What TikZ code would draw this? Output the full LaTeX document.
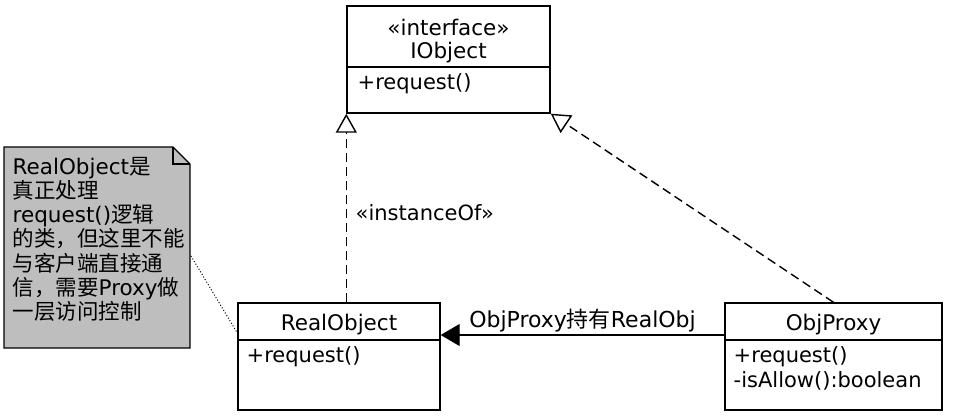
\documentclass[tikz,border=0pt]{standalone}
\usepackage{fontspec}
\setmainfont{DejaVu Sans}
\newfontfamily\cjk{Noto Sans CJK SC}
\usetikzlibrary{arrows.meta,positioning}
\definecolor{notegray}{RGB}{190,190,190}

\begin{document}
\begin{tikzpicture}[x=1pt,y=-1pt,line width=1.4pt,
    classbox/.style={draw,minimum height=107pt,inner sep=0pt},
    member/.style={anchor=base west,inner sep=0pt,font=\fontsize{21}{24}\selectfont},
    classname/.style={anchor=base,inner sep=0pt,font=\fontsize{21.5}{24}\selectfont},
    realize/.style={dash pattern=on 9pt off 5pt,-{Triangle[open,length=19pt,width=21pt]}},
    assoc/.style={-{Triangle[length=19pt,width=22pt]}}]
    \useasboundingbox (0,0) rectangle (957,415);
    % classes
    \node[classbox,minimum width=203pt] (iobj) at (448.5,59.5){};
    \draw (347,67) -- (550,67);
    \node[classname] (iobjst) at (448.5,35){«interface»};
    \node[classname] (iobjname) at (448.5,58){IObject};
    \node[member] (iobjreq) at (357,89){+request()};

    \node[classbox,minimum width=202pt] (real) at (339,356.5){};
    \draw (238,340) -- (440,340);
    \node[classname] (realname) at (339,330){RealObject};
    \node[member] (realreq) at (246,362){+request()};

    \node[classbox,minimum width=217pt] (proxy) at (833.5,356.5){};
    \draw (725,340) -- (942,340);
    \node[classname] (proxyname) at (833.5,330){ObjProxy};
    \node[member] (proxyreq) at (733,362){+request()};
    \node[member] (proxyallow) at (733,387){-isAllow():boolean};

    % note
    \fill[notegray] (4,147) -- (173,147) -- (190,164) -- (190,348) -- (4,348) -- cycle;
    \draw (4,147) -- (173,147) -- (190,164) -- (190,348) -- (4,348) -- cycle;
    \draw (173,147) -- (173,164) -- (190,164);
    \foreach \txt [count=\i] in {RealObject{\cjk 是},{\cjk 真正处理},request(){\cjk 逻辑},
        {\cjk 的类，但这里不能},{\cjk 与客户端直接通},{\cjk 信，需要}Proxy{\cjk 做},{\cjk 一层访问控制}}
        \node[member,font=\fontsize{21.5}{24}\selectfont] (note\i) at (12,174+24.3*\i-24.3){\txt};
    \coordinate (noteend) at (191,256);

    % connectors
    \draw[realize] (real.north -| iobj.south west) -- (iobj.south west);
    \draw[realize] (proxy.north) -- (iobj.south east);
    \draw[assoc] ([yshift=21.5pt]proxy.west) -- ([yshift=21.5pt]real.east)
        node[pos=0.5,anchor=base,inner sep=0pt,yshift=8pt,font=\fontsize{22}{24}\selectfont] (assoclabel){ObjProxy{\cjk 持有}RealObj};
    \draw[line width=1pt,dash pattern=on 1pt off 2pt] (noteend) -- ([yshift=23.5pt]real.west);
    \node[member] (instlabel) at (355,220){«instanceOf»};
\end{tikzpicture}
\end{document}
